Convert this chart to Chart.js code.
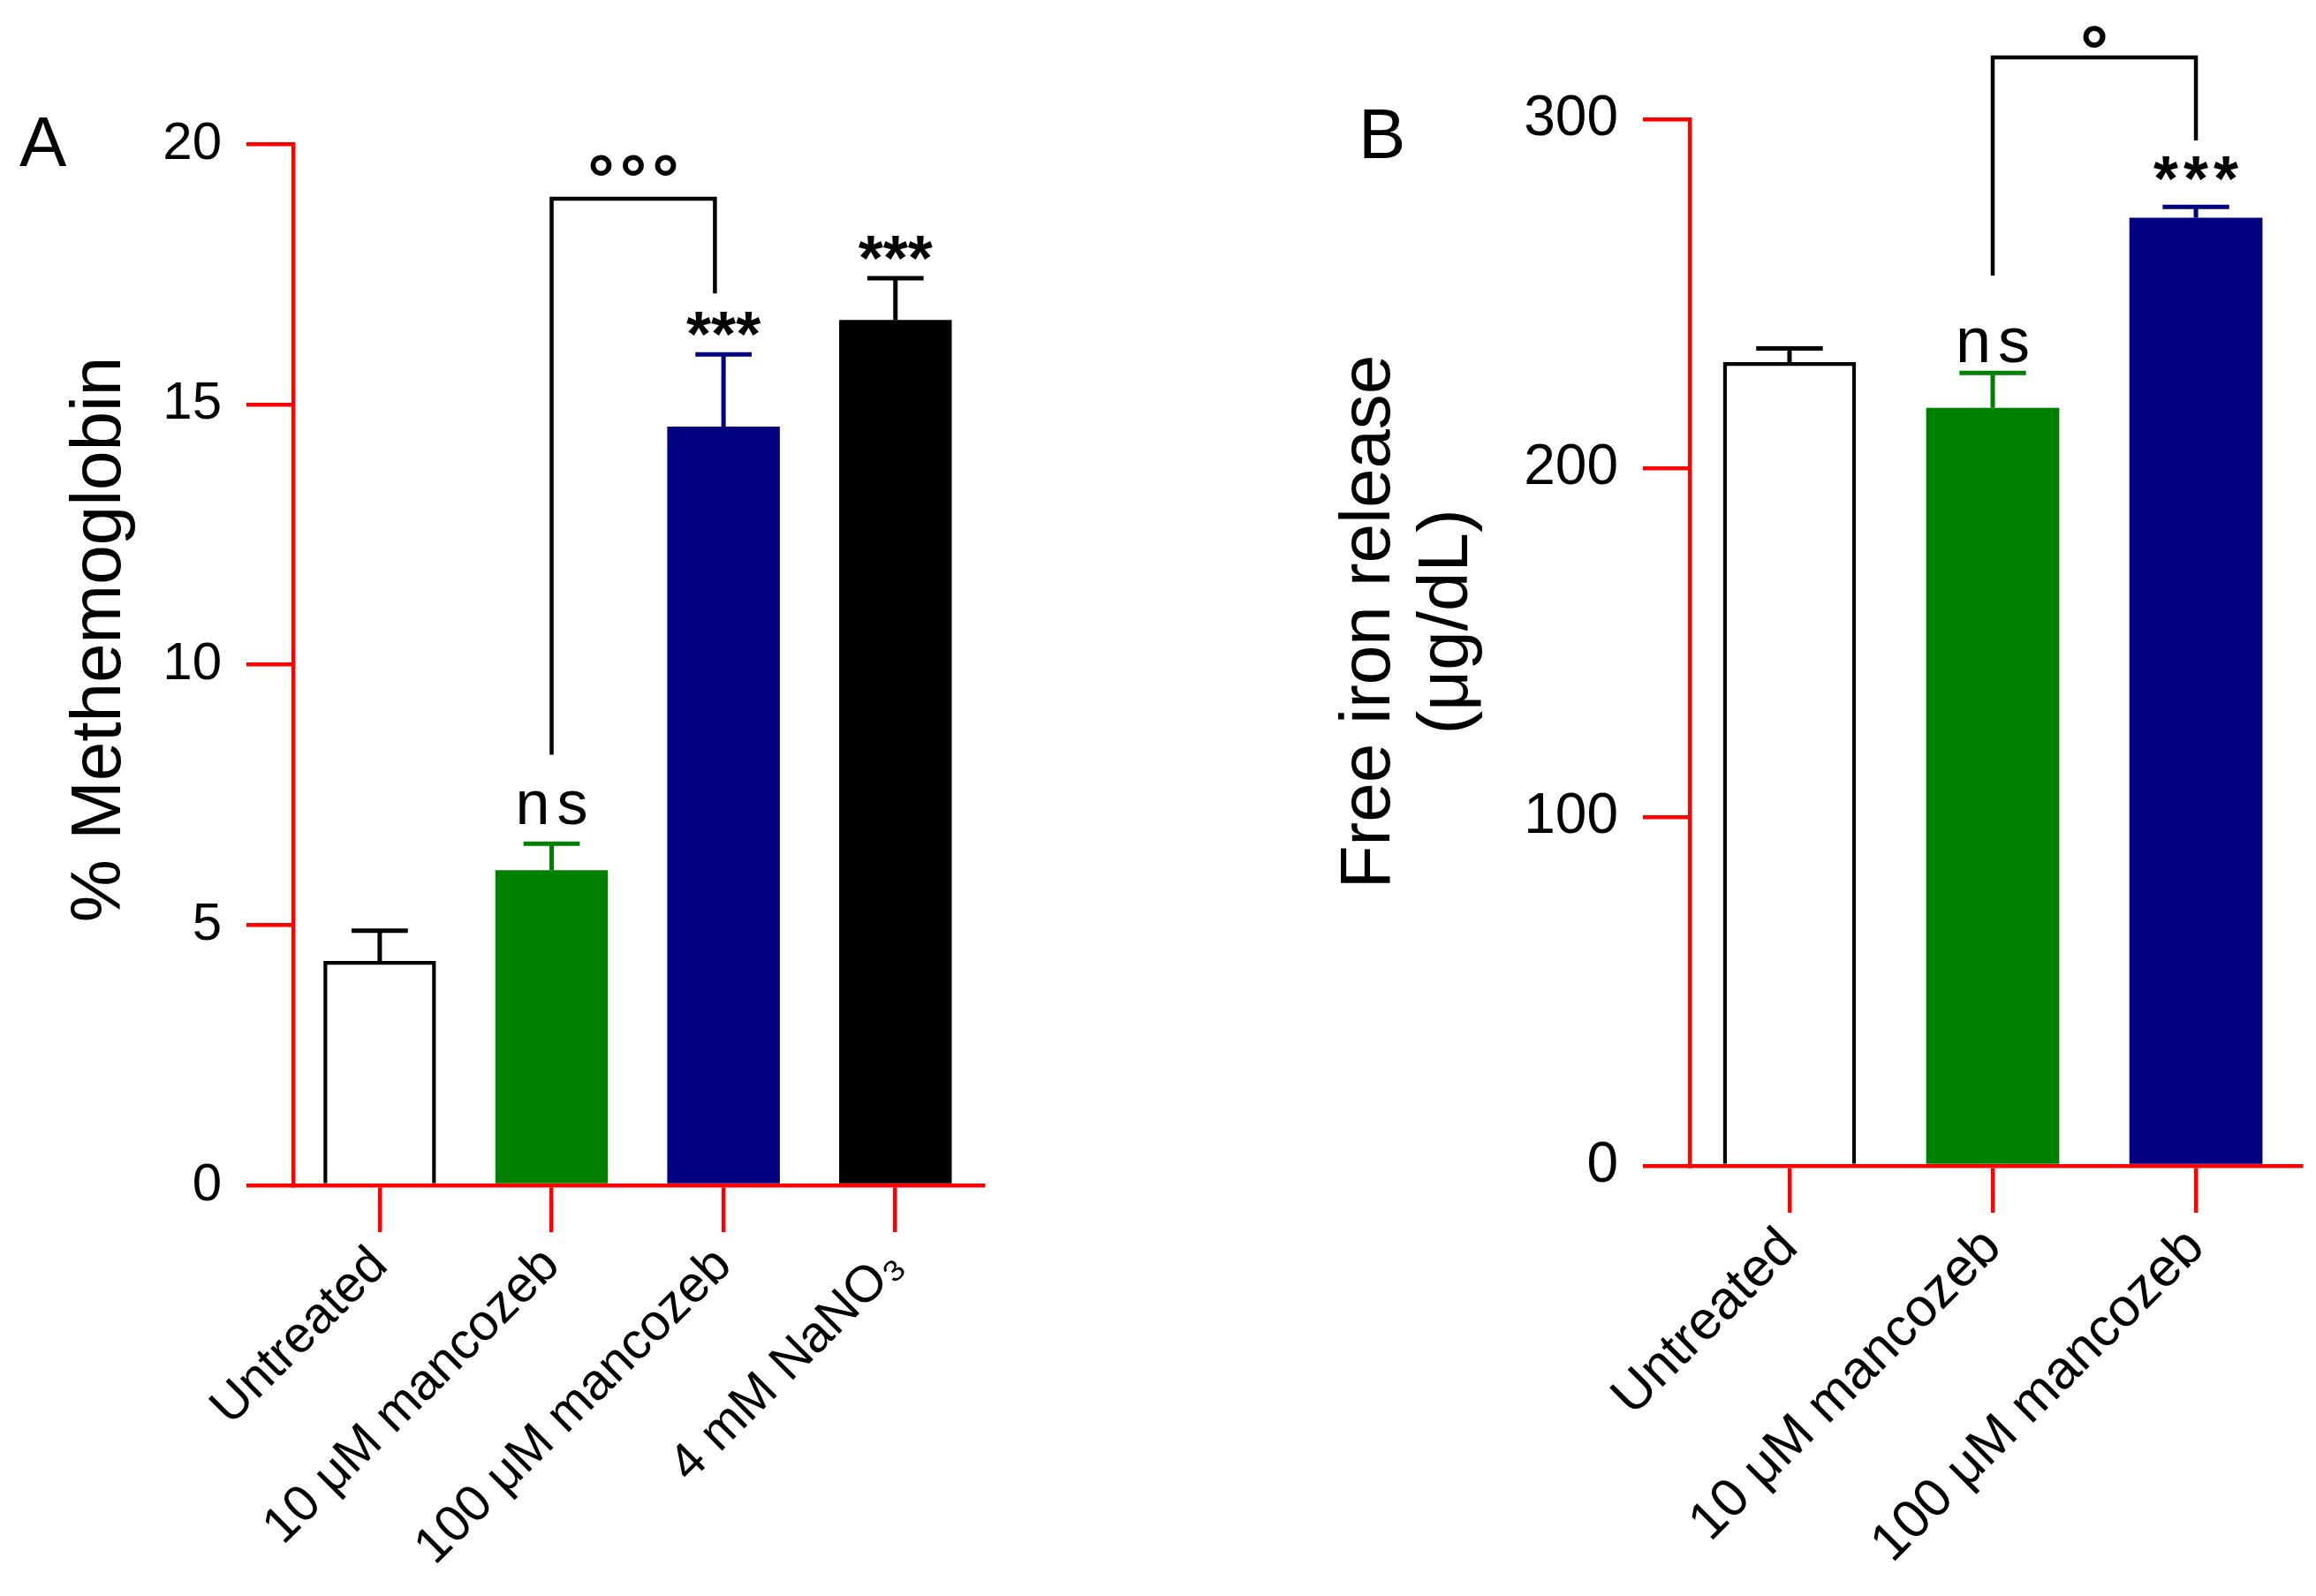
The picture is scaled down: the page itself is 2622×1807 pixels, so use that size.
<!DOCTYPE html>
<html>
<head>
<meta charset="utf-8">
<script src="https://cdn.jsdelivr.net/npm/chart.js@4.4.0/dist/chart.umd.min.js"></script>
<style>
body { margin: 0; background: #fff; }
#wrapA { position: absolute; left: 0; top: 0; width: 1200px; height: 1807px; }
#wrapB { position: absolute; left: 1200px; top: 0; width: 1422px; height: 1807px; }
</style>
</head>
<body>
<div id="wrapA"><canvas id="chartA"></canvas></div>
<div id="wrapB"><canvas id="chartB"></canvas></div>
<script>
// panel A: % methemoglobin
var labelsA = ["Untreated", "10 μM mancozeb", "100 μM mancozeb", "4 mM NaNO₃"];
var meanA = [4.31, 6.05, 14.57, 16.62];
var semA = [0.58, 0.51, 1.39, 0.80];
var sigA = ["", "ns", "***", "***"];
var ticksA = [0, 5, 10, 15, 20];

// panel B: free iron release
var labelsB = ["Untreated", "10 μM mancozeb", "100 μM mancozeb"];
var meanB = [230.4, 217.3, 271.8];
var semB = [3.9, 10.0, 3.1];
var sigB = ["", "ns", "***"];
var ticksB = [0, 100, 200, 300];

var fills = ["#ffffff", "#008000", "#000080", "#000000"];
var edges = ["#000000", "#008000", "#000080", "#000000"];
var FONT = '"Liberation Sans", Arial, sans-serif';
var RED = "#ff0000";

function markPlugin(cfg)
{
    return {
        id: "marks",
        afterDatasetsDraw: function (chart) {
            var ctx = chart.ctx;
            var xs = chart.scales.x, ys = chart.scales.y;
            var meta = chart.getDatasetMeta(0);
            ctx.save();
            for (var i = 0; i < cfg.mean.length; i++) {
                var cx = xs.getPixelForValue(i);
                var y0 = ys.getPixelForValue(cfg.mean[i]);
                var y1 = ys.getPixelForValue(cfg.mean[i] + cfg.sem[i]);
                var half = meta.data[i].width / 4;
                ctx.strokeStyle = edges[i];
                ctx.lineWidth = 5;
                ctx.beginPath();
                ctx.moveTo(cx, y0);
                ctx.lineTo(cx, y1);
                ctx.moveTo(cx - half, y1);
                ctx.lineTo(cx + half, y1);
                ctx.stroke();

                ctx.fillStyle = "#000";
                ctx.textAlign = "center";
                if (cfg.sig[i] == "ns") {
                    ctx.font = cfg.nsSize + "px " + FONT;
                    ctx.letterSpacing = "8px";
                    ctx.textBaseline = "alphabetic";
                    ctx.fillText("ns", cx + 4, y1 - cfg.nsGap);
                }
                else if (cfg.sig[i] != "") {
                    ctx.font = "bold " + cfg.starSize + "px " + FONT;
                    ctx.letterSpacing = cfg.starSpace + "px";
                    ctx.textBaseline = "middle";
                    ctx.fillText(cfg.sig[i], cx + cfg.starSpace / 2, y1 - cfg.starGap);
                }
                ctx.letterSpacing = "0px";
            }
            ctx.restore();
        },
        afterDraw: function (chart) {
            var ctx = chart.ctx;
            var xs = chart.scales.x, ys = chart.scales.y;
            var b = cfg.bracket;
            ctx.save();
            // comparison bracket
            ctx.strokeStyle = "#000";
            ctx.lineWidth = 4.5;
            ctx.beginPath();
            ctx.moveTo(xs.getPixelForValue(b.from), ys.getPixelForValue(b.fromBottom));
            ctx.lineTo(xs.getPixelForValue(b.from), ys.getPixelForValue(b.top));
            ctx.lineTo(xs.getPixelForValue(b.to), ys.getPixelForValue(b.top));
            ctx.lineTo(xs.getPixelForValue(b.to), ys.getPixelForValue(b.toBottom));
            ctx.stroke();

            ctx.fillStyle = "#000";
            ctx.textAlign = "center";
            ctx.textBaseline = "alphabetic";
            ctx.font = "bold " + cfg.degSize + "px " + FONT;
            ctx.letterSpacing = cfg.degSpace + "px";
            var mid = (xs.getPixelForValue(b.from) + xs.getPixelForValue(b.to)) / 2;
            ctx.fillText(b.text, mid + cfg.degSpace / 2, ys.getPixelForValue(b.top) + cfg.degDrop);
            ctx.letterSpacing = "0px";

            // panel letter
            ctx.textAlign = "left";
            ctx.font = "80px " + FONT;
            ctx.fillText(cfg.letter, cfg.letterX, cfg.letterY);

            // y title, one line per entry
            ctx.font = cfg.titleSize + "px " + FONT;
            ctx.textAlign = "center";
            for (var k = 0; k < cfg.title.length; k++) {
                ctx.save();
                ctx.translate(cfg.titleX[k], cfg.titleY);
                ctx.rotate(-Math.PI / 2);
                ctx.fillText(cfg.title[k], 0, 0);
                ctx.restore();
            }
            ctx.restore();
        }
    };
}

function makeChart(id, cfg)
{
    var font = { family: FONT, size: cfg.tickSize };
    return new Chart(document.getElementById(id), {
        type: "bar",
        data: {
            datasets: [{
                data: cfg.mean.map(function (v, i) { return { x: i, y: v }; }),
                backgroundColor: fills.slice(0, cfg.mean.length),
                borderColor: edges.slice(0, cfg.mean.length),
                borderWidth: cfg.mean.map(function (v, i) { return i == 0 ? 4.5 : 0; }),
                barPercentage: 1,
                categoryPercentage: 0.655
            }]
        },
        options: {
            responsive: true,
            maintainAspectRatio: false,
            animation: false,
            layout: { padding: { left: 0, top: cfg.top, right: cfg.right, bottom: 0 } },
            plugins: { legend: { display: false }, tooltip: { enabled: false } },
            scales: {
                x: {
                    type: "linear",
                    min: cfg.xmin,
                    max: cfg.xmax,
                    offset: false,
                    z: 1,
                    afterBuildTicks: function (s) {
                        s.ticks = cfg.labels.map(function (l, i) { return { value: i }; });
                    },
                    afterFit: function (s) { s.height = cfg.xHeight; },
                    grid: { drawOnChartArea: false, drawTicks: true, tickLength: 53, color: RED, lineWidth: 4.5, offset: false },
                    border: { color: RED, width: 4.5 },
                    ticks: {
                        autoSkip: false, minRotation: 45, maxRotation: 45, padding: 4,
                        color: "#000", font: { family: FONT, size: cfg.labelSize },
                        callback: function (v, i) { return cfg.labels[i]; }
                    }
                },
                y: {
                    min: 0,
                    max: cfg.yticks[cfg.yticks.length - 1],
                    z: 1,
                    afterBuildTicks: function (s) {
                        s.ticks = cfg.yticks.map(function (v) { return { value: v }; });
                    },
                    afterFit: function (s) { s.width = cfg.yWidth; },
                    grid: { drawOnChartArea: false, drawTicks: true, tickLength: 53, color: RED, lineWidth: 4.5 },
                    border: { color: RED, width: 4.5 },
                    ticks: { padding: 28, color: "#000", font: font }
                }
            }
        },
        plugins: [markPlugin(cfg)]
    });
}

var chartA = makeChart("chartA", {
    labels: labelsA, mean: meanA, sem: semA, sig: sigA, yticks: ticksA,
    xmin: -0.503, xmax: 3.51, top: 163, right: 87, yWidth: 332, xHeight: 465,
    tickSize: 60, labelSize: 58,
    nsSize: 70, nsGap: 22, starSize: 72, starSpace: 0, starGap: 18,
    degSize: 76, degSpace: 6, degDrop: 4,
    bracket: { from: 1, to: 1.95, top: 18.95, fromBottom: 8.27, toBottom: 17.13, text: "°°°" },
    letter: "A", letterX: 22, letterY: 188,
    title: ["% Methemoglobin"], titleX: [136], titleY: 724, titleSize: 80
});

var chartB = makeChart("chartB", {
    labels: labelsB, mean: meanB, sem: semB, sig: sigB, yticks: ticksB,
    xmin: -0.491, xmax: 2.517, top: 135, right: 17, yWidth: 713, xHeight: 487,
    tickSize: 64, labelSize: 61,
    nsSize: 72, nsGap: 12, starSize: 72, starSpace: 6, starGap: 27,
    degSize: 80, degSpace: 0, degDrop: 20,
    bracket: { from: 1, to: 2.0, top: 317.7, fromBottom: 255.2, toBottom: 293.9, text: "°" },
    letter: "B", letterX: 338, letterY: 179,
    title: ["Free iron release", "(μg/dL)"], titleX: [373, 461], titleY: 704, titleSize: 80
});
</script>
</body>
</html>
